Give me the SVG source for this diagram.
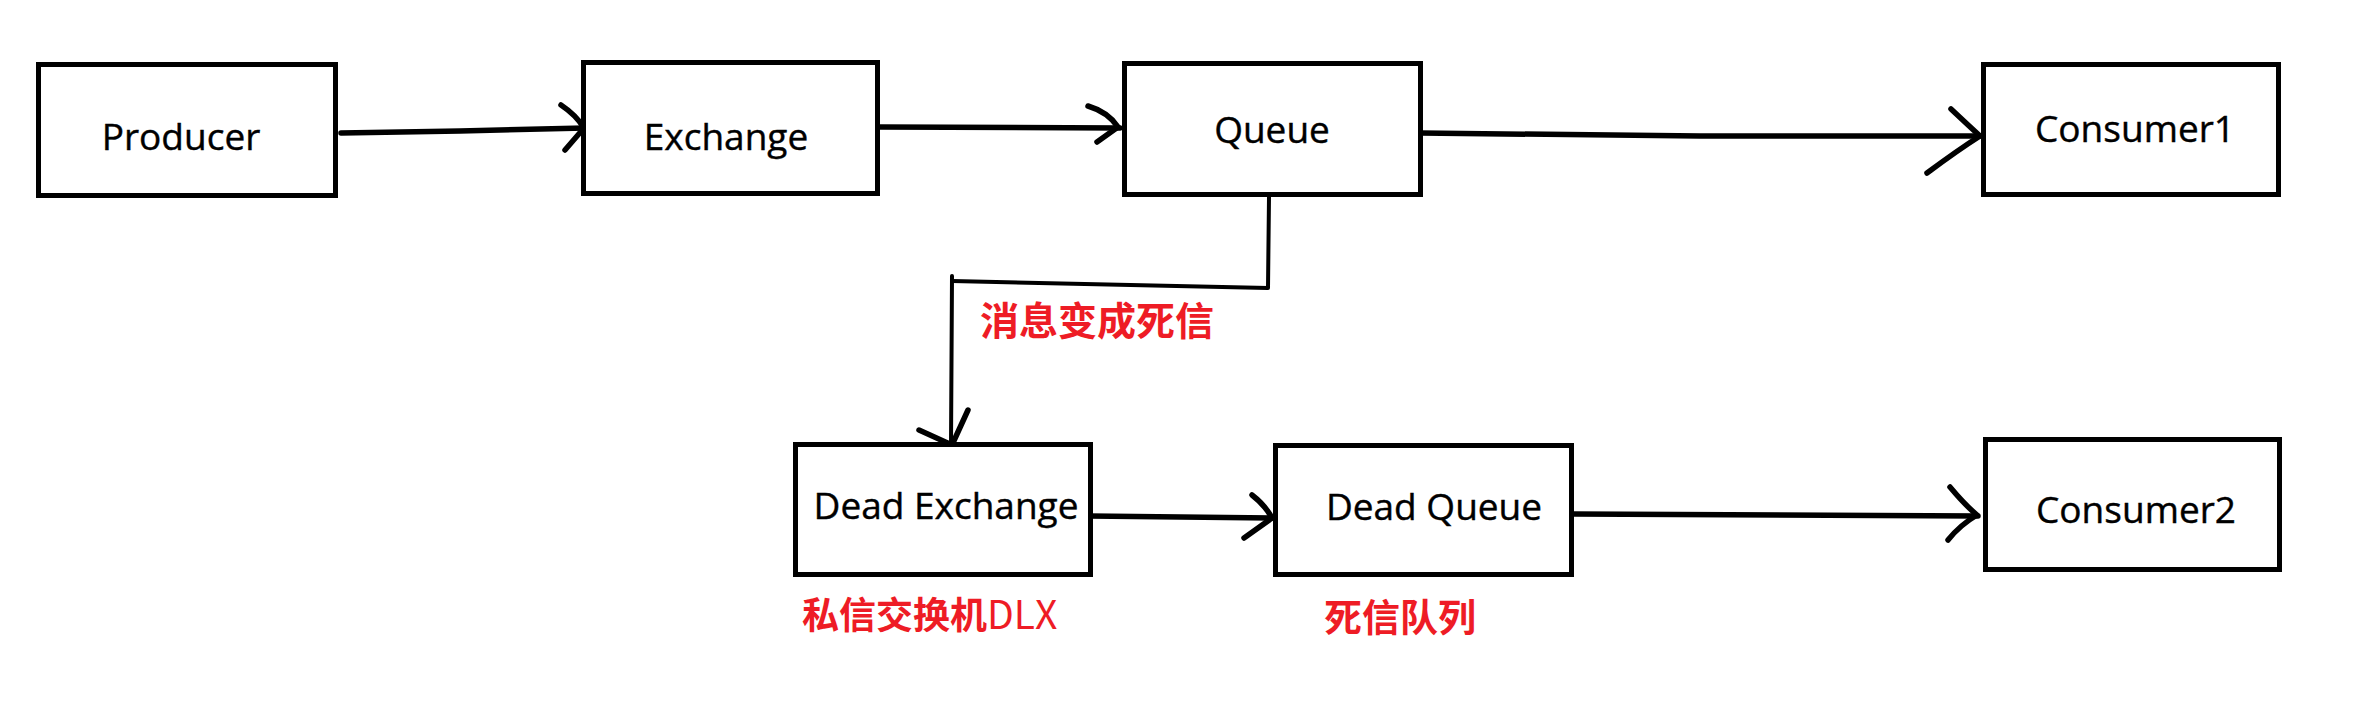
<svg xmlns="http://www.w3.org/2000/svg" width="2353" height="712" viewBox="0 0 2353 712">
<style>
.box{fill:#fff;stroke:#000;stroke-width:5}
.lbl{font-family:"Open Sans","Noto Sans","Liberation Sans",sans-serif;font-size:37px;fill:#000;text-anchor:middle;stroke:#000;stroke-width:0.4}
.red{font-family:"Noto Sans CJK SC","Noto Sans",sans-serif;font-weight:bold;fill:#ee1c25}
.ln{fill:none;stroke:#000;stroke-width:5.5;stroke-linecap:round;stroke-linejoin:round}
.thin{stroke-width:4}
</style>
<rect width="2353" height="712" fill="#fff"/>
<g id="connectors">
<path class="ln" d="M341,133 L460,131 L585,128"/>
<path class="ln" d="M561,105 Q576,115 584,128 L565,150"/>
<path class="ln" d="M880,127 L1120,128"/>
<path class="ln" d="M1088,106 Q1108,112 1118,127 L1097,142"/>
<path class="ln" d="M1420,133 L1700,136 L1980,136"/>
<path class="ln" d="M1951,109 Q1968,125 1980,136 Q1958,150 1927,173"/>
<path class="ln thin" d="M1269,197 L1268,288 L952,281"/>
<path class="ln thin" d="M952,276 L951,445"/>
<path class="ln" d="M919,430 L952,445 L968,410"/>
<path class="ln" d="M1089,516 L1273,518"/>
<path class="ln" d="M1252,495 Q1265,505 1272,518 L1244,538"/>
<path class="ln" d="M1573,514 L1978,516"/>
<path class="ln" d="M1950,487 Q1965,505 1977,515 Q1960,525 1948,540"/>
</g>
<g id="producer"><rect class="box" x="38.5" y="64.5" width="297" height="131"/><text class="lbl" x="181" y="150">Producer</text></g>
<g id="exchange"><rect class="box" x="583.5" y="62.5" width="294" height="131"/><text class="lbl" x="726" y="150">Exchange</text></g>
<g id="queue"><rect class="box" x="1124.5" y="63.5" width="296" height="131"/><text class="lbl" x="1272" y="143">Queue</text></g>
<g id="consumer1"><rect class="box" x="1983.5" y="64.5" width="295" height="130"/><text class="lbl" x="2135" y="142">Consumer1</text></g>
<g id="dead-exchange"><rect class="box" x="795.5" y="444.5" width="295" height="130"/><text class="lbl" x="946" y="519">Dead Exchange</text></g>
<g id="dead-queue"><rect class="box" x="1275.5" y="445.5" width="296" height="129"/><text class="lbl" x="1434" y="520">Dead Queue</text></g>
<g id="consumer2"><rect class="box" x="1985.5" y="439.5" width="294" height="130"/><text class="lbl" x="2136" y="523">Consumer2</text></g>
<g id="labels">
<text class="red" x="980" y="335" font-size="39">消息变成死信</text>
<text class="red" x="802" y="629" font-size="37">私信交换机<tspan font-weight="normal" font-size="39">DLX</tspan></text>
<text class="red" x="1324" y="631" font-size="38">死信队列</text>
</g>
</svg>
